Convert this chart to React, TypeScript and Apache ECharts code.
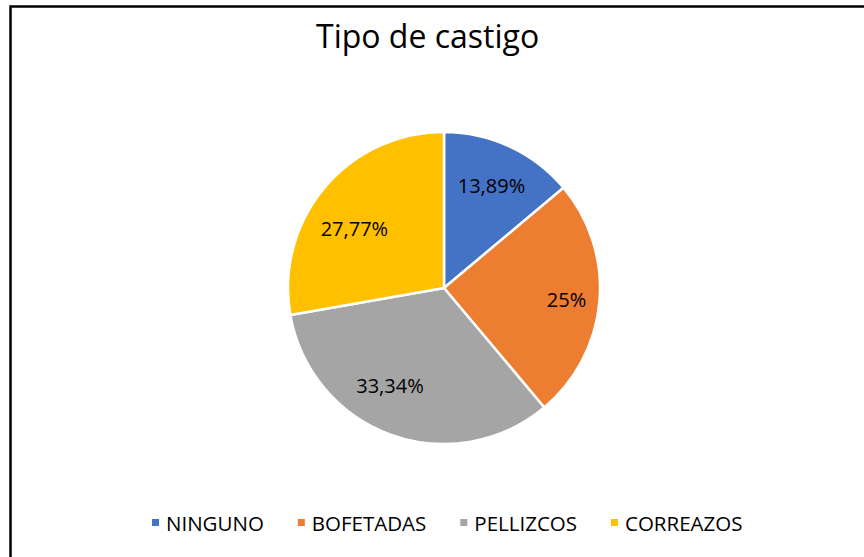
import React, { useEffect, useRef } from "react";
import * as echarts from "echarts";

const categories = ["NINGUNO", "BOFETADAS", "PELLIZCOS", "CORREAZOS"];
const values = [13.89, 25, 33.34, 27.77];
const labels = ["13,89%", "25%", "33,34%", "27,77%"];
const colors = ["#4472C4", "#ED7D31", "#A5A5A5", "#FFC000"];
// small label nudges (Excel best-fit placement)
const labelNudgeX = [-2, 6, -14, 0];
const labelNudgeY = [4, 1, -12, 16];

export default function App() {
  const ref = useRef<HTMLDivElement>(null);
  useEffect(() => {
    document.body.style.margin = "0";
    const chart = echarts.init(ref.current!, null, { renderer: "svg" });
    const font = "Open Sans";
    const pieData = categories.map((c, i) => ({
      name: c,
      value: values[i],
      itemStyle: { color: colors[i] },
    }));
    chart.setOption({
      animation: false,
      backgroundColor: "#fff",
      title: {
        text: "Tipo de castigo",
        left: 311,
        top: 14,
        textStyle: { fontFamily: font, fontSize: 32, fontWeight: "normal", color: "#000" },
      },
      legend: {
        data: categories,
        bottom: 19,
        left: 145,
        itemWidth: 9,
        itemHeight: 9,
        itemGap: 32,
        icon: "rect",
        textStyle: { fontFamily: font, fontSize: 20.5, color: "#000", padding: [0, 0, 0, 1] },
      },
      graphic: [
        {
          type: "rect",
          shape: { x: 10.5, y: 6.5, width: 900, height: 600 },
          style: { fill: "none", stroke: "#000", lineWidth: 2.5 },
          silent: true,
        },
      ],
      series: [
        {
          type: "pie",
          center: [444, 288],
          radius: [0, 156],
          startAngle: 90,
          clockwise: true,
          label: { show: false },
          labelLine: { show: false },
          itemStyle: { borderColor: "#fff", borderWidth: 2.5 },
          emphasis: { disabled: true },
          data: pieData,
        },
        {
          type: "pie",
          center: [444, 288],
          radius: [72, 156],
          startAngle: 90,
          clockwise: true,
          silent: true,
          itemStyle: { color: "transparent", borderWidth: 0 },
          label: {
            show: true,
            position: "inside",
            fontFamily: font,
            fontSize: 20,
            color: "#000",
            formatter: (p: any) => labels[p.dataIndex],
          },
          labelLayout: (p: any) => ({ dx: labelNudgeX[p.dataIndex], dy: labelNudgeY[p.dataIndex] }),
          labelLine: { show: false },
          emphasis: { disabled: true },
          data: categories.map((c, i) => ({
            name: c,
            value: values[i],
            itemStyle: { color: "transparent" },
          })),
        },
      ],
    });
    return () => chart.dispose();
  }, []);
  return <div ref={ref} style={{ position: "absolute", left: 0, top: 0, width: 864, height: 557 }} />;
}
